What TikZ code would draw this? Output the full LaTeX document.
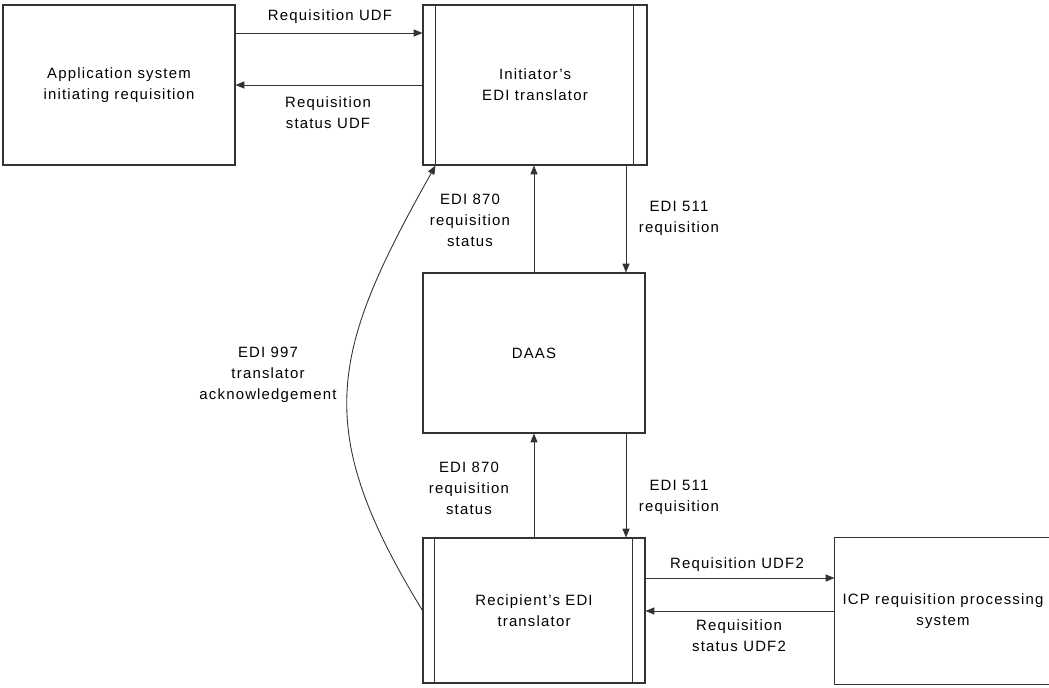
\documentclass[tikz,border=0pt]{standalone}
\usepackage{fontspec}
\setmainfont{Liberation Sans}[LetterSpace=8]
\usetikzlibrary{arrows.meta,calc,positioning}

\begin{document}
\begin{tikzpicture}[x=0.02cm,y=-0.02cm,>={Triangle[length=5pt,width=4pt]},
  font=\fontsize{8.5}{12}\selectfont,
  box/.style={draw=black!80,line width=0.6pt,align=center,inner sep=0pt},
  flow/.style={->,draw=black!80,line width=0.5pt},
  lbl/.style={align=center,inner sep=0pt}]
\useasboundingbox (0,0) rectangle (1049,687);
% the five boxes
\node[box,minimum width=4.64cm,minimum height=3.2cm] (app) at (119,85) {Application system\\initiating requisition};
\node[box,minimum width=4.48cm,minimum height=3.2cm] (init) at (535,85) {Initiator's\\EDI translator};
\node[box,minimum width=4.44cm,minimum height=3.2cm] (daas) at (534,353) {DAAS};
\node[box,minimum width=4.44cm,minimum height=2.9cm] (recip) at (534,610.5) {Recipient's EDI\\translator};
\node[box,draw=none,minimum width=4.32cm,minimum height=2.92cm] (icp) at (943,611) {ICP requisition processing\\system};
\draw[black!80,line width=0.6pt] (icp.north east) -- (icp.north west) -- (icp.south west) -- (icp.south east);
% side bars of the two translators
\draw[black!80,line width=0.5pt] ($(init.north west)+(13,0)$) -- ($(init.south west)+(13,0)$) coordinate (initfoot);
\draw[black!80,line width=0.5pt] ($(init.north east)+(-14,0)$) -- ($(init.south east)+(-14,0)$);
\draw[black!80,line width=0.5pt] ($(recip.north west)+(12,0)$) -- ($(recip.south west)+(12,0)$);
\draw[black!80,line width=0.5pt] ($(recip.north east)+(-13,0)$) -- ($(recip.south east)+(-13,0)$);
% top row: application and initiator
\draw[flow] ($(app.east)+(0,-52)$) -- ($(init.west)+(0,-52)$);
\draw[flow] (init.west) -- (app.east);
\node[lbl] (udf) at (330,17) {Requisition UDF};
\node[lbl] (udfstat) at (328,113) {Requisition\\status UDF};
% initiator and DAAS
\coordinate (down1) at ($(init.south)+(91,0)$);
\draw[flow] (daas.north) -- (daas.north |- init.south);
\draw[flow] (down1) -- (down1 |- daas.north);
\node[lbl] (st870a) at (470,220) {EDI 870\\requisition\\status};
\node[lbl] (req511a) at (679,218) {EDI 511\\requisition};
% DAAS and recipient
\coordinate (down2) at ($(daas.south)+(92,0)$);
\draw[flow] (recip.north) -- (recip.north |- daas.south);
\draw[flow] (down2) -- (down2 |- recip.north);
\node[lbl] (st870b) at (469,488) {EDI 870\\requisition\\status};
\node[lbl] (req511b) at (679,497) {EDI 511\\requisition};
% bottom row: recipient and ICP
\draw[flow] ($(recip.east)+(0,-32.5)$) -- ($(icp.west)+(0,-33)$);
\draw[flow] (icp.west) -- (recip.east |- icp.west);
\node[lbl] (udf2) at (737,565) {Requisition UDF2};
\node[lbl] (udf2stat) at (739,636) {Requisition\\status UDF2};
% acknowledgement back to the initiator
\draw[flow] (recip.west) .. controls +(-112,-183) and +(-105,187) .. (initfoot);
\node[lbl] (ack997) at (268,375) {EDI 997\\translator\\acknowledgement};
\end{tikzpicture}
\end{document}
